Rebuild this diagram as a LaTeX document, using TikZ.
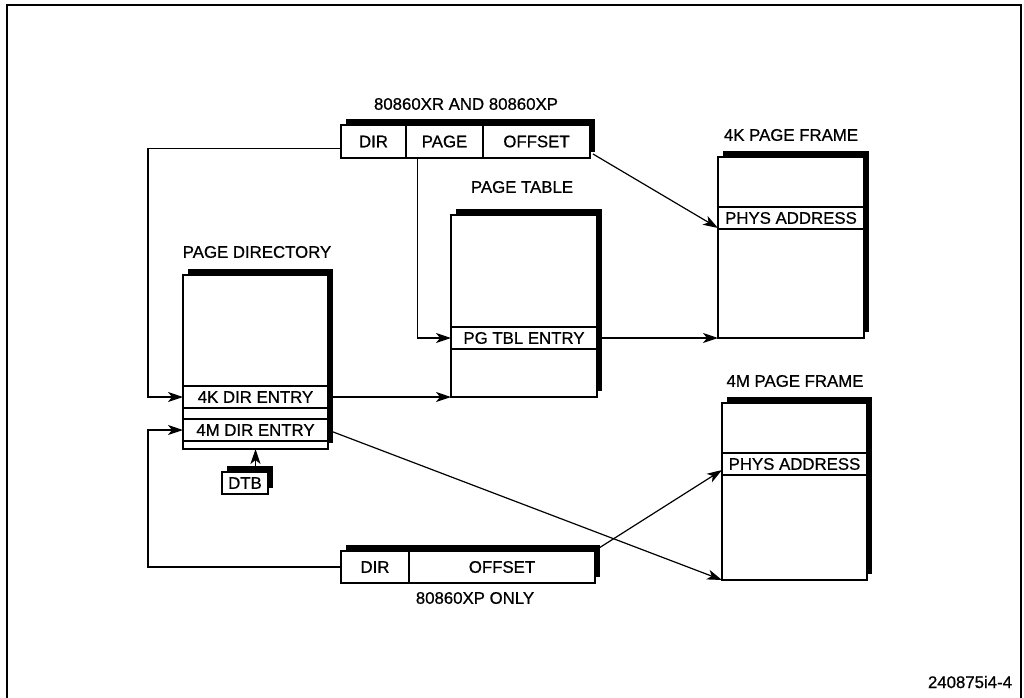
\documentclass[tikz,border=0pt]{standalone}
\usepackage{fontspec}
\setmainfont{Liberation Sans}
\newfontfamily\lblfamily{Liberation Sans}[FakeBold=0.7]
\usetikzlibrary{arrows.meta,shadows}
\newcommand{\lblfont}{\lblfamily\fontsize{16.8}{19}\selectfont}
\begin{document}
\begin{tikzpicture}[x=1pt,y=-1pt,
  sbox/.style={draw, line width=1.6pt, fill=white, inner sep=0pt, outer sep=0pt, anchor=north west,
     drop shadow={shadow xshift=5pt, shadow yshift=6pt, fill=black, opacity=1}},
  cell/.style={draw, line width=1.1pt, inner sep=0pt, outer sep=0pt, anchor=north west, font=\lblfont},
  lbl/.style={font=\lblfont, inner sep=0pt},
  wire/.style={line width=1.2pt},
  conn/.style={wire, -{Stealth[length=15pt,width=10pt,inset=4pt]}}]
\useasboundingbox (0,0) rectangle (1024,697);
% frame
\draw[line width=2.5pt] (7,700) -- (7,5) -- (1021,5) -- (1021,700);

% top address
\node[lbl] (tA) at (466,104) {80860XR AND 80860XP};
\node[sbox, minimum width=249pt, minimum height=33pt] (addrA) at (341,125) {};
\node[cell, minimum width=65pt, minimum height=33pt] (dirA) at (341,125) {DIR};
\node[cell, minimum width=77pt, minimum height=33pt] (pageA) at (406,125) {PAGE};
\node[cell, minimum width=107pt, minimum height=33pt] (offA) at (483,125) {OFFSET};

% page directory
\node[lbl] (tD) at (257,252) {PAGE DIRECTORY};
\node[sbox, minimum width=145pt, minimum height=174pt] (dir) at (183,275) {};
\node[cell, minimum width=145pt, minimum height=22pt] (e4k) at (183,386) {4K DIR ENTRY};
\node[cell, minimum width=145pt, minimum height=22pt] (e4m) at (183,419) {4M DIR ENTRY};

% DTB
\node[sbox, minimum width=46pt, minimum height=22pt, font=\lblfont] (dtb) at (222,472) {DTB};

% page table
\node[lbl] (tT) at (522,187) {PAGE TABLE};
\node[sbox, minimum width=146pt, minimum height=182pt] (ptab) at (451,215) {};
\node[cell, minimum width=146pt, minimum height=22pt] (ptent) at (451,327) {PG TBL ENTRY};

% 4K page frame
\node[lbl] (t4k) at (791,135) {4K PAGE FRAME};
\node[sbox, minimum width=146pt, minimum height=181pt] (f4k) at (718,157) {};
\node[cell, minimum width=146pt, minimum height=22pt] (p4k) at (718,207) {PHYS ADDRESS};

% 4M page frame
\node[lbl] (t4m) at (795,381) {4M PAGE FRAME};
\node[sbox, minimum width=145pt, minimum height=177pt] (f4m) at (722,403) {};
\node[cell, minimum width=145pt, minimum height=22pt] (p4m) at (722,453) {PHYS ADDRESS};

% bottom address
\node[sbox, minimum width=254pt, minimum height=32pt] (addrB) at (341,551) {};
\node[cell, minimum width=68pt, minimum height=32pt] (dirB) at (341,551) {DIR};
\node[cell, minimum width=186pt, minimum height=32pt] (offB) at (409,551) {OFFSET};
\node[lbl] (tB) at (475,598) {80860XP ONLY};

% figure id
\node[lbl] (fid) at (970,682) {240875i4-4};

% rail
\coordinate (rail) at (148,0);

% connectors
\draw[conn] ([yshift=-7pt]dirA.west) -| (rail |- e4k.west) -- (e4k.west);
\draw[conn] (dirB.west) -| (rail |- e4m.west) -- (e4m.west);
\draw[conn] ([xshift=-27pt]pageA.south) |- (ptent.west);
\draw[conn] ([xshift=3pt,yshift=4pt]offA.south east) -- ([yshift=1pt]p4k.south west);
\draw[conn] (e4k.east) -- (ptab.south west);
\draw[conn] (ptent.east) -- (f4k.south west);
\draw[conn] (e4m.east) -- (f4m.south west);
\draw[conn] ([xshift=4pt,yshift=3pt]offB.north east) -- ([yshift=-6pt]p4m.west);
\draw[conn] ([yshift=6pt]dtb.north -| dir.south) -- (dir.south);
\end{tikzpicture}
\end{document}
